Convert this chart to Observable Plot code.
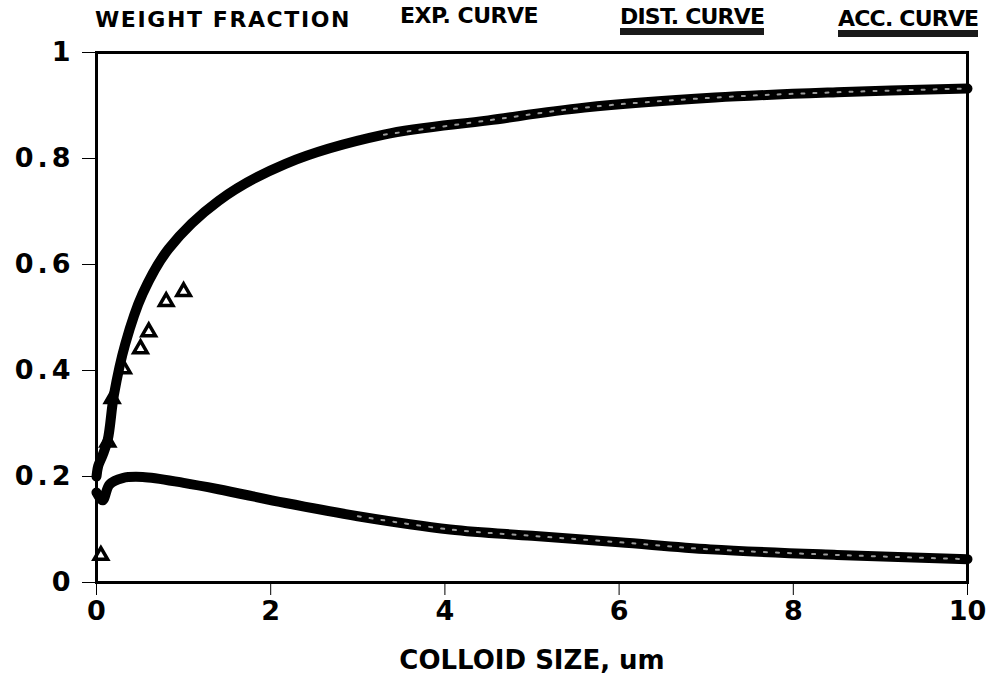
<!DOCTYPE html>
<html>
<head>
<meta charset="utf-8">
<script src="https://cdn.jsdelivr.net/npm/d3@7"></script>
<script src="https://cdn.jsdelivr.net/npm/@observablehq/plot@0.6"></script>
<style>
  html, body { margin: 0; padding: 0; background: #fff; }
  #wrap { width: 986px; height: 684px; position: relative; overflow: hidden; }
  #head { position: relative; height: 36px; width: 986px; }
  #head span { position: absolute; font-family: "DejaVu Sans", sans-serif; font-weight: bold; font-size: 22px; line-height: 22px; color: #000; white-space: nowrap; }
  .ul { border-bottom: 7px solid #1a1a1a; padding-bottom: 0px; }
</style>
</head>
<body>
<div id="wrap">
  <div id="head">
    <span style="left:95px; top:9px; letter-spacing:1.6px;">WEIGHT FRACTION</span>
    <span style="left:400px; top:5px; letter-spacing:-0.5px;">EXP. CURVE</span>
    <span class="ul" style="left:620px; top:6px; letter-spacing:-0.8px;">DIST. CURVE</span>
    <span class="ul" style="left:838px; top:8px; letter-spacing:-0.8px;">ACC. CURVE</span>
  </div>
  <div id="chart"></div>
</div>
<script>
// Cumulative (accumulated) weight fraction curve
const accX = [0.0, 0.02, 0.07, 0.13, 0.2, 0.33, 0.53, 0.83, 1.4, 2.17, 3.3, 4.5, 5.6, 7.1, 8.5, 10];
const accY = [0.2, 0.22, 0.24, 0.27, 0.354, 0.45, 0.545, 0.63, 0.72, 0.79, 0.845, 0.872, 0.896, 0.915, 0.925, 0.932];
// Distribution curve
const distX = [0.0, 0.07, 0.15, 0.3, 0.53, 1.0, 1.4, 2.17, 3.0, 4.06, 5.0, 6.0, 7.05, 8.5, 10];
const distY = [0.17, 0.155, 0.185, 0.197, 0.199, 0.188, 0.176, 0.15, 0.125, 0.10, 0.088, 0.076, 0.0625, 0.052, 0.044];
// Experimental points (triangles)
const expX = [0.05, 0.13, 0.18, 0.31, 0.505, 0.6, 0.8, 1.0];
const expY = [0.051, 0.265, 0.347, 0.403, 0.441, 0.473, 0.53, 0.549];
// Tick values and axis title
const xTicks = [0, 2, 4, 6, 8, 10];
const yTicks = [0, 0.2, 0.4, 0.6, 0.8, 1];
const xTitle = ["COLLOID SIZE, um"];

const acc = accX.map((x, i) => ({x, y: accY[i]}));
const dist = distX.map((x, i) => ({x, y: distY[i]}));
const exp = expX.map((x, i) => ({x, y: expY[i]}));

const chart = Plot.plot({
  width: 986,
  height: 648,
  marginLeft: 96,
  marginRight: 19,
  marginTop: 16,
  marginBottom: 102,
  style: {
    fontFamily: "'DejaVu Sans', sans-serif",
    fontWeight: "bold",
    fontSize: "27px",
    color: "#000",
    background: "#fff",
    overflow: "visible"
  },
  x: {
    domain: [0, 10],
    ticks: xTicks,
    tickSize: 13,
    tickPadding: 5,
    tickFormat: d => String(d),
    label: null
  },
  y: {
    domain: [0, 1],
    ticks: yTicks,
    tickSize: 14,
    tickPadding: 8,
    tickFormat: d => d === 0 ? "0" : d === 1 ? "1" : d.toFixed(1),
    label: null
  },
  marks: [
    Plot.frame({stroke: "#000", strokeWidth: 3}),
    Plot.line(acc, {x: "x", y: "y", stroke: "#000", strokeWidth: 10, curve: "catmull-rom"}),
    Plot.line(acc.filter(d => d.x >= 3), {x: "x", y: "y", stroke: "#9a9a9a", strokeWidth: 2, strokeDasharray: "3,9", curve: "catmull-rom"}),
    Plot.line(dist, {x: "x", y: "y", stroke: "#000", strokeWidth: 10, curve: "catmull-rom"}),
    Plot.line(dist.filter(d => d.x >= 3), {x: "x", y: "y", stroke: "#9a9a9a", strokeWidth: 2, strokeDasharray: "3,9", curve: "catmull-rom"}),
    Plot.dot(exp, {x: "x", y: "y", symbol: "triangle", r: 5, stroke: "#000", strokeWidth: 3.5, fill: "none"}),
    Plot.text(xTitle, {text: d => d, frameAnchor: "bottom", dy: 78, lineAnchor: "middle", fontSize: 26, fontWeight: "bold"})
  ]
});
chart.querySelectorAll('[aria-label="y-axis tick label"] text').forEach(t => t.setAttribute("letter-spacing", "4"));
document.getElementById("chart").appendChild(chart);
</script>
</body>
</html>
